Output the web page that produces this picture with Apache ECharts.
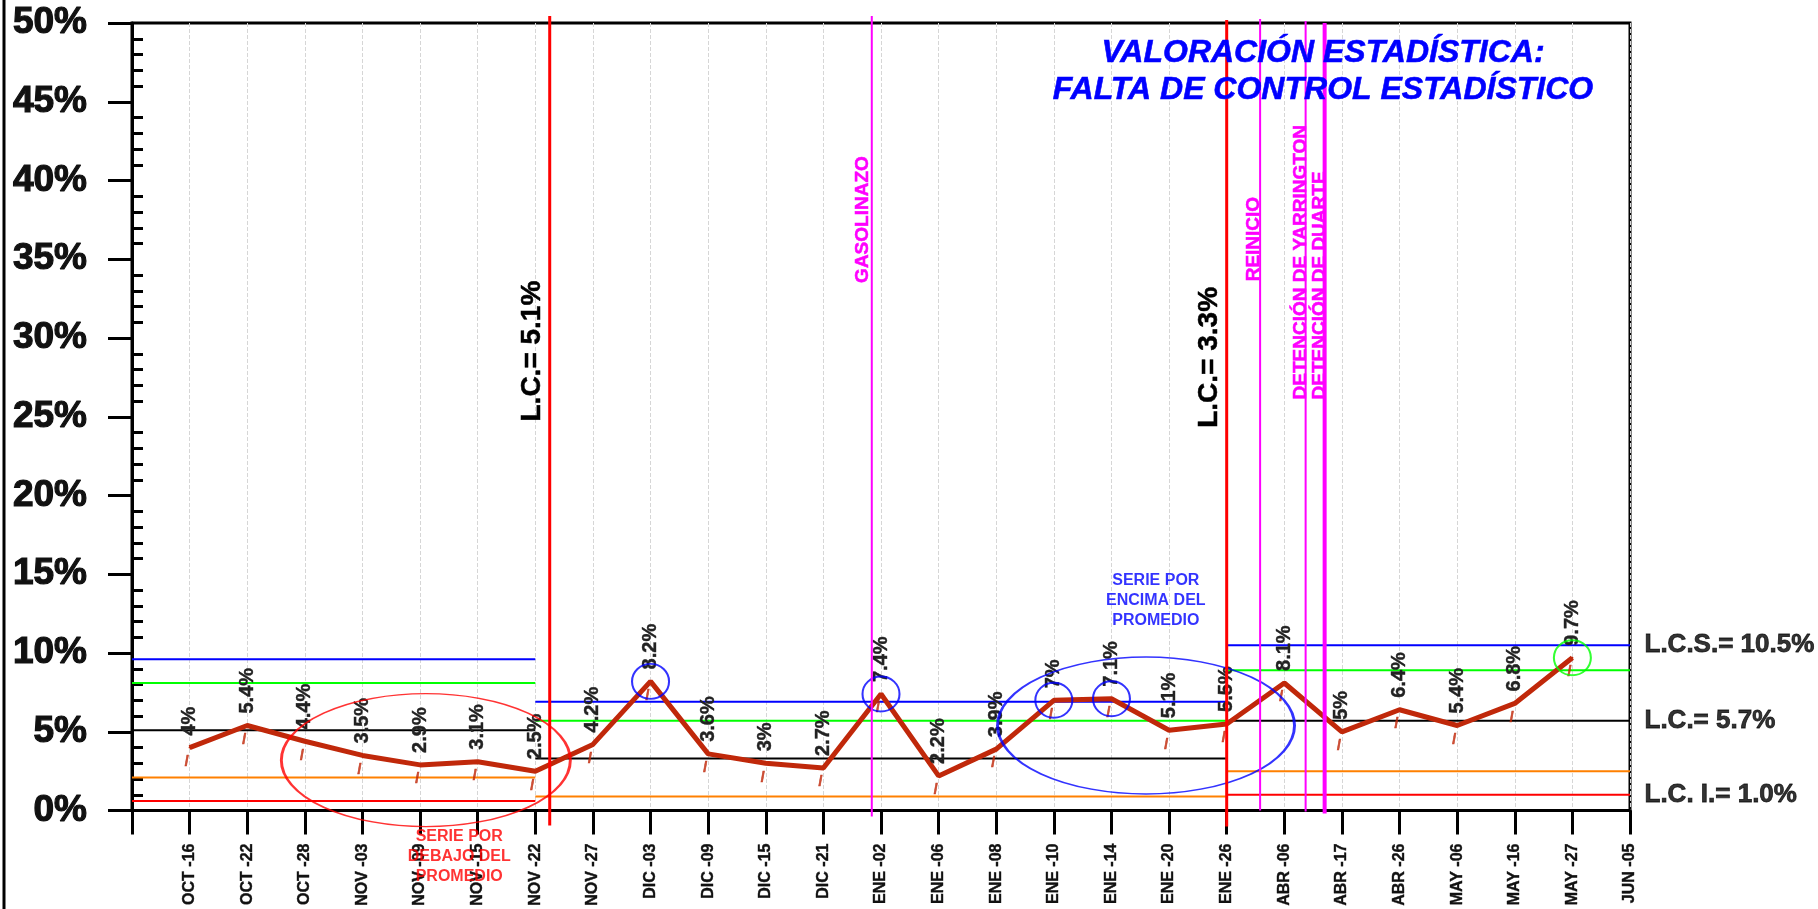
<!DOCTYPE html>
<html>
<head>
<meta charset="utf-8">
<title>Valoración estadística</title>
<script src="https://cdn.jsdelivr.net/npm/echarts@6/dist/echarts.min.js"></script>
<style>
html, body { margin: 0; padding: 0; background: #fff; }
#main { width: 1818px; height: 909px; }
</style>
</head>
<body>
<div id="main"></div>
<script>
// fechas del eje x (posicion 1..26)
var categories = ['OCT -16', 'OCT -22', 'OCT -28', 'NOV -03', 'NOV -09', 'NOV -15', 'NOV -22', 'NOV -27',
	'DIC -03', 'DIC -09', 'DIC -15', 'DIC -21', 'ENE -02', 'ENE -06', 'ENE -08', 'ENE -10', 'ENE -14',
	'ENE -20', 'ENE -26', 'ABR -06', 'ABR -17', 'ABR -26', 'MAY -06', 'MAY -16', 'MAY -27', 'JUN -05'];
// porcentaje por fecha
var values = [4, 5.4, 4.4, 3.5, 2.9, 3.1, 2.5, 4.2, 8.2, 3.6, 3, 2.7, 7.4, 2.2, 3.9, 7, 7.1, 5.1, 5.5,
	8.1, 5, 6.4, 5.4, 6.8, 9.7];

// limites por tramo
var segEdges = [0, 7, 19, 26];
var lcs = [9.6, 6.9, 10.5];
var sup2 = [8.1, 5.7, 8.9];
var lc = [5.1, 3.3, 5.7];
var inf2 = [2.1, 0.9, 2.5];
var lci = [0.6, null, 1.0];

// lineas verticales de eventos
var eventX = [7.25, 12.84, 19, 19.58, 20.37, 20.7];
var eventText = ['L.C.= ' + lc[0] + '%', 'GASOLINAZO', 'L.C.= ' + lc[1] + '%', 'REINICIO',
	'DETENCIÓN DE YARRINGTON', 'DETENCIÓN DE DUARTE'];
var eventTextFrom = [24.7, 33.5, 24.3, 33.6, 26.1, 26.1];

// puntos marcados
var blueCircles = ['DIC -03', 'ENE -02', 'ENE -10', 'ENE -14'];
var greenCircles = ['MAY -27'];

// series por encima / por debajo
var groupCenter = [[5.1, 3.2], [17.6, 5.4]];
var groupText = ['SERIE POR\nDEBAJO DEL\nPROMEDIO', 'SERIE POR\nENCIMA DEL\nPROMEDIO'];
var groupTextAt = [[5.68, -2.95], [17.77, 13.35]];

var FONT = '"Liberation Sans", Arial, sans-serif';

var eventStyle = [
	{ line: '#FF0000', w: 3, up: 7, down: 15, size: 28, fill: '#000', dx: -17 },
	{ line: '#FF00FF', w: 2, up: 7, down: 6, size: 19, fill: '#FF00FF', dx: -9 },
	{ line: '#FF0000', w: 3, up: 3, down: 16, size: 28, fill: '#000', dx: -17 },
	{ line: '#FF00FF', w: 2, up: 4, down: 0, size: 19, fill: '#FF00FF', dx: -6 },
	{ line: '#FF00FF', w: 2, up: 2, down: 1, size: 19, fill: '#FF00FF', dx: -5 },
	{ line: '#FF00FF', w: 4, up: 0, down: 3, size: 19, fill: '#FF00FF', dx: -5 }
];

function stepData(levels) {
	var out = [];
	for (var s = 0; s < levels.length; s++) {
		if (levels[s] == null) continue;
		out.push([segEdges[s], levels[s]], [segEdges[s + 1], levels[s]], [segEdges[s + 1], '-']);
	}
	return out;
}

function limitSeries(name, levels, color) {
	return {
		name: name, type: 'line', data: stepData(levels), symbol: 'none', silent: true, z: 2,
		lineStyle: { color: color, width: 2 }
	};
}

function markAt(names) {
	return names.map(function(n) {
		var i = categories.indexOf(n);
		return [i + 1, values[i]];
	});
}

var points = values.map(function(v, i) { return [i + 1, v]; });

var minorTicks = [];
for (var t = 1; t < 50; t++) {
	if (t % 5 != 0) minorTicks.push(t);
}

// texto negro grueso a la derecha
function rightLabel(txt) {
	return {
		position: 'right', distance: 14, formatter: txt, fontSize: 26, fontWeight: 'bold', color: '#000',
		textBorderColor: '#000', textBorderWidth: 0.8
	};
}

var notes = [
	{ value: [segEdges[3], lcs[2]], label: rightLabel('L.C.S.= ' + lcs[2].toFixed(1) + '%') },
	{ value: [segEdges[3], lc[2]], label: rightLabel('L.C.= ' + lc[2].toFixed(1) + '%') },
	{ value: [segEdges[3], lci[2]], label: rightLabel('L.C. I.= ' + lci[2].toFixed(1) + '%') },
	{ value: groupTextAt[0], label: { position: 'inside', formatter: groupText[0], fontSize: 16, lineHeight: 20, fontWeight: 'bold', color: '#FF0000', align: 'center' } },
	{ value: groupTextAt[1], label: { position: 'inside', formatter: groupText[1], fontSize: 16, lineHeight: 20, fontWeight: 'bold', color: '#0000FF', align: 'center' } }
];

var chart = echarts.init(document.getElementById('main'));
chart.setOption({
	animation: false,
	backgroundColor: '#fff',
	textStyle: { fontFamily: FONT },
	grid: { left: 132, right: 188, top: 23, bottom: 95, show: true, borderColor: '#000', borderWidth: 3 },
	xAxis: {
		type: 'value', min: 0, max: 26, interval: 1,
		axisLine: { lineStyle: { color: '#000', width: 3 } },
		axisTick: { length: 24, lineStyle: { color: '#000', width: 3 } },
		axisLabel: {
			rotate: 90, margin: 33, fontSize: 16, fontWeight: 'bold', color: '#111',
			textBorderColor: '#111', textBorderWidth: 0.4,
			showMinLabel: true, showMaxLabel: true,
			formatter: function(v) { return v >= 1 ? categories[v - 1] : ''; }
		},
		splitLine: { show: true, lineStyle: { color: '#d6d6d6', type: 'dashed', width: 1 } }
	},
	yAxis: [{
		type: 'value', min: 0, max: 50, interval: 5,
		axisLine: { show: true, lineStyle: { color: '#000', width: 3 } },
		axisTick: { show: true, length: 24, lineStyle: { color: '#000', width: 3 } },
		axisLabel: {
			formatter: '{value}%', fontSize: 37, fontWeight: 'bold', color: '#111', margin: 45,
			textBorderColor: '#111', textBorderWidth: 1.2
		},
		splitLine: { show: false }
	}, {
		type: 'value', min: 0, max: 50, interval: 1, position: 'left', offset: 0,
		axisLine: { show: false },
		axisTick: { show: true, inside: true, length: 11, customValues: minorTicks, lineStyle: { color: '#000', width: 3 } },
		axisLabel: { show: false },
		splitLine: { show: false }
	}],
	graphic: [
		{ type: 'line', shape: { x1: 4, y1: 0, x2: 4, y2: 909 }, style: { stroke: '#000', lineWidth: 3 } },
		{
			type: 'text', x: 1323, y: 35, z: 10,
			style: {
				text: 'VALORACIÓN ESTADÍSTICA:\nFALTA DE CONTROL ESTADÍSTICO',
				font: 'italic bold 32px ' + FONT, fill: '#0000FF', align: 'center', verticalAlign: 'top', lineHeight: 37,
				stroke: '#0000FF', lineWidth: 0.6
			}
		}
	],
	series: [
		limitSeries('LCS', lcs, '#0000FF'),
		limitSeries('+2s', sup2, '#00FF00'),
		limitSeries('LC', lc, '#000000'),
		limitSeries('-2s', inf2, '#FF8000'),
		limitSeries('LCI', lci, '#FF0000'),
		{
			name: 'valor', type: 'line', data: points, z: 3,
			symbol: 'circle', symbolSize: 2, itemStyle: { color: '#C0280A' },
			lineStyle: { color: '#C0280A', width: 5 },
			label: {
				show: true, position: 'top', distance: 11, rotate: 90, align: 'left', verticalAlign: 'middle',
				fontSize: 20, fontWeight: 'bold', color: '#222', textBorderColor: '#222', textBorderWidth: 0.4,
				formatter: function(p) { return p.value[1] + '%'; }
			}
		},
		{
			name: 'marca', type: 'scatter', data: points, symbolSize: 1, z: 3, silent: true,
			itemStyle: { color: 'rgba(0,0,0,0)' },
			label: {
				show: true, position: 'bottom', distance: 7, offset: [-3, 0], formatter: '/',
				fontSize: 14, fontWeight: 'bold', color: '#C0280A', textBorderColor: '#C0280A', textBorderWidth: 0.6
			}
		},
		{
			name: 'circulos', type: 'scatter', z: 4, silent: true, clip: false,
			symbol: 'circle', symbolSize: [37, 35],
			itemStyle: { color: 'rgba(0,0,0,0)', borderColor: '#0000FF', borderWidth: 2 },
			data: markAt(blueCircles)
		},
		{
			name: 'circulo verde', type: 'scatter', z: 4, silent: true, clip: false,
			symbol: 'circle', symbolSize: [37, 35],
			itemStyle: { color: 'rgba(0,0,0,0)', borderColor: '#00FF00', borderWidth: 2 },
			data: markAt(greenCircles)
		},
		{
			name: 'grupos', type: 'scatter', z: 4, silent: true, clip: false, symbol: 'circle',
			itemStyle: { color: 'rgba(0,0,0,0)', borderWidth: 2 },
			data: [
				{ value: groupCenter[0], symbolSize: [289, 133], itemStyle: { borderColor: '#FF0000' } },
				{ value: groupCenter[1], symbolSize: [297, 137], itemStyle: { borderColor: '#0000FF' } }
			]
		},
		{
			name: 'eventos', type: 'custom', z: 5, silent: true, clip: false,
			encode: { x: 0, y: 1 },
			data: eventX.map(function(x, i) { return [x, eventTextFrom[i]]; }),
			renderItem: function(params, api) {
				var i = params.dataIndex;
				var st = eventStyle[i];
				var x = api.value(0);
				var top = api.coord([x, 50]);
				var bot = api.coord([x, 0]);
				var lab = api.coord([x, api.value(1)]);
				return {
					type: 'group',
					children: [{
						type: 'line',
						shape: { x1: top[0], y1: top[1] - st.up, x2: bot[0], y2: bot[1] + st.down },
						style: { stroke: st.line, lineWidth: st.w }
					}, {
						type: 'text', x: lab[0] + st.dx, y: lab[1], rotation: Math.PI / 2,
						style: {
							text: eventText[i], font: 'bold ' + st.size + 'px ' + FONT, fill: st.fill,
							align: 'left', verticalAlign: 'middle', stroke: st.fill, lineWidth: 0.5
						}
					}]
				};
			}
		},
		{
			name: 'notas', type: 'scatter', z: 6, silent: true, clip: false,
			symbolSize: 1, itemStyle: { color: 'rgba(0,0,0,0)' },
			label: { show: true },
			data: notes
		}
	]
});
</script>
</body>
</html>
